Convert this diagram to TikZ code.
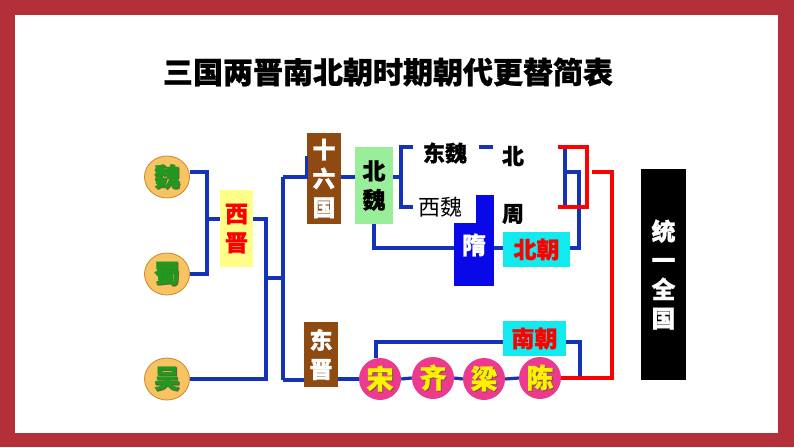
\documentclass[tikz,border=0pt]{standalone}
\usepackage{fontspec}
\newfontfamily\cjk{Noto Sans CJK SC}[BoldFeatures={FakeBold=0.8}]
\usetikzlibrary{shapes.geometric}

\definecolor{frame}{HTML}{B3303B}
\definecolor{linkblue}{HTML}{1433B8}
\definecolor{tanfill}{HTML}{F8C363}
\definecolor{tanedge}{HTML}{C8892C}
\definecolor{kgreen}{HTML}{1E9A1E}
\definecolor{pinkfill}{HTML}{EC3A8F}
\definecolor{brownbox}{HTML}{8F4A12}
\definecolor{greenbox}{HTML}{99EE99}
\definecolor{cyanbox}{HTML}{11EAEE}
\definecolor{yellowbox}{HTML}{FFFF88}
\definecolor{suiblue}{HTML}{0808E8}
\definecolor{shadowtxt}{HTML}{6A5A3A}

% Character with a small dark shadow behind it.
\newcommand\shadowed[1]{\makebox[0pt][l]{\kern.9pt\raisebox{-.9pt}{\color{shadowtxt}#1}}#1}

\begin{document}
\begin{tikzpicture}[x=1pt,y=-1pt,line cap=butt,line join=miter,
    link/.style={draw=linkblue,line width=3.2pt},
    redlink/.style={draw=red,line width=3.2pt},
    kingdom/.style={ellipse,draw=tanedge,line width=.8pt,fill=tanfill,
      minimum width=45,minimum height=42,inner sep=0pt,text=kgreen,
      font=\cjk\bfseries\fontsize{26}{26}\selectfont},
    southdyn/.style={circle,fill=pinkfill,minimum size=42,inner sep=0pt,
      text=yellow,font=\cjk\bfseries\fontsize{27}{27}\selectfont},
    vbox/.style={rectangle,inner sep=0pt,align=center,
      font=\cjk\bfseries\fontsize{23}{29}\selectfont},
    hbox/.style={rectangle,inner sep=0pt,
      font=\cjk\bfseries\fontsize{23}{23}\selectfont},
    plain/.style={inner sep=0pt,font=\cjk\bfseries\fontsize{22}{22}\selectfont}]
    % Frame.
    \useasboundingbox (0,0) rectangle (794,447);
    \fill[frame] (0,0) rectangle (794,447);
    \fill[white] (15,15) rectangle (778,433);
    \node[inner sep=0pt,font=\cjk\bfseries\fontsize{30}{30}\selectfont]
      (title) at (388,72) {三国两晋南北朝时期朝代更替简表};

    % Three kingdoms and Western Jin.
    \node[kingdom] (wei) at (167,177) {\shadowed{魏}};
    \node[kingdom] (shu) at (167,274) {\shadowed{蜀}};
    \node[kingdom] (wu) at (167,379) {\shadowed{吴}};
    \node[vbox,fill=yellowbox,text=red,minimum width=33,minimum height=77]
      (xijin) at (236.5,228.5) {西\\晋};
    \coordinate (jA) at (207,219);
    \coordinate (jB) at (266,278);
    \coordinate (jC) at (283,278);
    \coordinate (jD) at (283,177);
    \coordinate (jE) at (283,380);
    \draw[link] (wei.east |- 0,172) -| (jA) |- (shu.east);
    \draw[link] (jA) -- (jA -| xijin.west);
    \draw[link] (xijin.east |- jA) -| (jB) |- (wu.east);
    \draw[link] (jB) -- (jC);
    \draw[link] (jD) -- (jE);

    % Sixteen kingdoms and the north.
    \node[vbox,fill=brownbox,text=white,minimum width=34,minimum height=91]
      (shiliu) at (324,178.5) {十\\六\\国};
    \node[vbox,fill=greenbox,minimum width=38,minimum height=77]
      (beiwei) at (374,185.5) {北\\魏};
    \draw[link] (jD) -- (jD -| shiliu.west) -- ++(0,-21);
    \draw[link] (shiliu.east |- jD) -- (beiwei.west |- jD);
    \coordinate (jF) at (401,177);
    \coordinate (bT) at (413,147);
    \coordinate (bB) at (413,207);
    \draw[link] (beiwei.east |- jF) -- (jF);
    \draw[link] (bT) -| (jF) |- (bB);
    \node[plain] (dongwei) at (445,153) {东魏};
    \node[inner sep=0pt,font=\cjk\fontsize{22}{22}\selectfont]
      (xiwei) at (440,207) {西魏};
    \coordinate (dA) at (479,147);
    \coordinate (dB) at (493,147);
    \draw[link] (dA) -- (dB);
    \node[plain] (bei) at (513,156) {北};
    \node[plain] (zhou) at (513,214) {周};
    \fill[suiblue] (476,195) rectangle (494,224);
    \node[hbox,fill=suiblue,text=white,minimum width=40,minimum height=63]
      (sui) at (474,254.5) {};
    \node[plain,text=white,font=\cjk\bfseries\fontsize{24}{24}\selectfont]
      at (474,245) {隋};
    \node[hbox,fill=cyanbox,text=red,minimum width=67,minimum height=35]
      (beichao) at (536.5,249.5) {北朝};
    \coordinate (jG) at (579,248);
    \coordinate (jH) at (579,172);
    \coordinate (bbT) at (565,149);
    \coordinate (bbB) at (565,206);
    \draw[link] (beiwei.south) |- (sui.west |- jG);
    \draw[link] (sui.east |- jG) -- (beichao.west |- jG);
    \draw[link] (beichao.east |- jG) -| (jH) -- (jH -| bbT);
    \draw[link] (bbT) -- (bbB);
    \coordinate (rT) at (558,147);
    \coordinate (rB) at (558,207);
    \coordinate (rM) at (587,172);
    \draw[redlink] (rT) -| (rM) |- (rB);

    % Eastern Jin and the south.
    \node[vbox,fill=brownbox,text=white,minimum width=34,minimum height=65]
      (dongjin) at (321,354.5) {东\\晋};
    \draw[link] (jE) -- (jE -| dongjin.west);
    \node[southdyn] (song) at (380,379) {\shadowed{宋}};
    \node[southdyn] (qi) at (433,378) {\shadowed{齐}};
    \node[southdyn] (liang) at (484,379) {\shadowed{梁}};
    \node[southdyn] (chen) at (540,378) {\shadowed{陈}};
    \draw[link] (dongjin.east |- song) -- (song.west);
    \draw[link] (song.east) -- (qi.west);
    \draw[link] (qi.east) -- (liang.west);
    \draw[link] (liang.east) -- (chen.west);
    \node[hbox,fill=cyanbox,text=red,minimum width=63,minimum height=35]
      (nanchao) at (534.5,338.5) {南朝};
    \coordinate (jN) at (580,378);
    \draw[link] (song.north -| 376,0) |- (nanchao.west |- 0,342);
    \draw[link] (nanchao.east |- 0,342) -| (jN);
    \coordinate (rS) at (592,172);
    \coordinate (rK) at (612,172);
    \draw[redlink] (rS) -- (rK) |- (chen.east);

    % Unification.
    \node[vbox,fill=black,text=white,minimum width=45,minimum height=211,
      font=\cjk\bfseries\fontsize{24}{29}\selectfont]
      (tongyi) at (663.5,274.5) {统\\一\\全\\国};
\end{tikzpicture}
\end{document}
